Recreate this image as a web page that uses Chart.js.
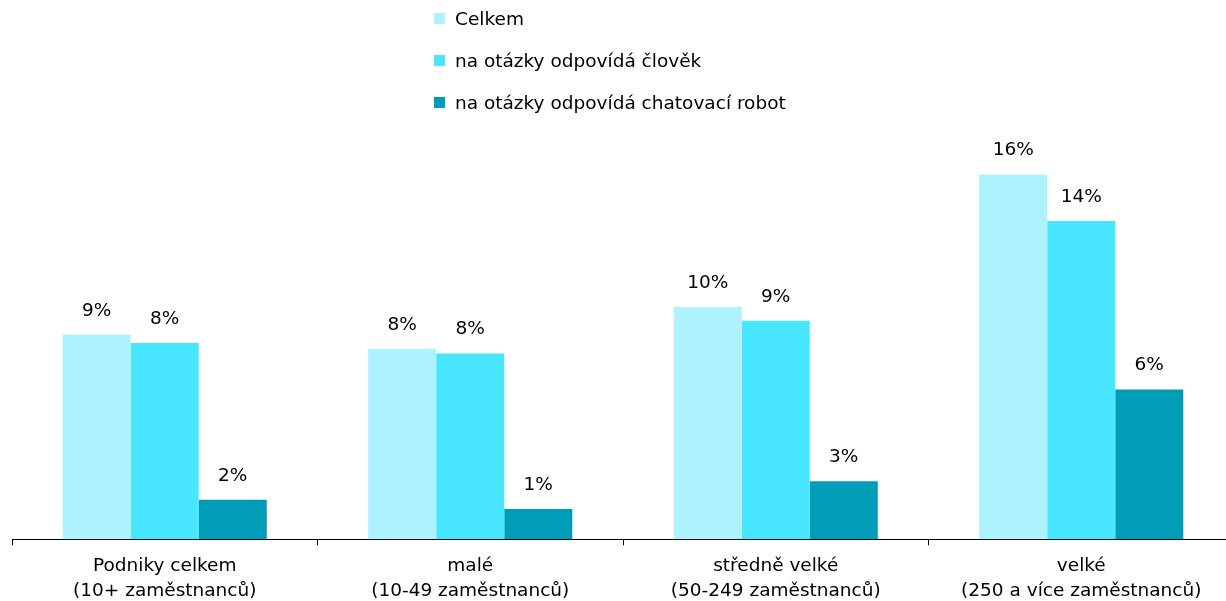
<!DOCTYPE html>
<html lang="cs">
<head>
<meta charset="utf-8">
<script src="https://cdn.jsdelivr.net/npm/chart.js@4.4.1/dist/chart.umd.min.js"></script>
<style>
    html, body { margin: 0; padding: 0; background: #fff; overflow: hidden; }
    #wrap { position: relative; width: 1240px; height: 618px; }
    #legend { position: absolute; left: 434px; top: 0; font-family: "DejaVu Sans", Arial, sans-serif; font-size: 18.5px; color: #000; }
    .leg-item { position: absolute; left: 0; height: 22px; display: flex; align-items: center; white-space: nowrap; }
    .leg-box { width: 11px; height: 11px; margin-right: 10px; }
</style>
</head>
<body>
<div id="wrap">
    <canvas id="chart" width="1240" height="618"></canvas>
    <div id="legend"></div>
</div>
<script>
// Kategorie (velikost podniku)
const categories = [
    ["Podniky celkem", "(10+ zaměstnanců)"],
    ["malé", "(10-49 zaměstnanců)"],
    ["středně velké", "(50-249 zaměstnanců)"],
    ["velké", "(250 a více zaměstnanců)"]
];

const seriesNames = ["Celkem", "na otázky odpovídá člověk", "na otázky odpovídá chatovací robot"];
const seriesColors = ["#aef2fe", "#48e6ff", "#009db8"];

// hodnoty v %
const celkem = [8.8, 8.2, 10.0, 15.7];
const clovek = [8.45, 8.0, 9.4, 13.7];
const robot = [1.7, 1.3, 2.5, 6.45];

const fontFamily = '"DejaVu Sans", Arial, sans-serif';

// Popisky nad sloupci
const barLabels = {
    id: 'barLabels',
    afterDatasetsDraw(chart) {
        const ctx = chart.ctx;
        ctx.save();
        ctx.font = '18.5px ' + fontFamily;
        ctx.fillStyle = '#000';
        ctx.textAlign = 'center';
        ctx.textBaseline = 'middle';
        chart.data.datasets.forEach((ds, i) => {
            chart.getDatasetMeta(i).data.forEach((bar, j) => {
                ctx.fillText(Math.round(ds.data[j]) + '%', bar.x, bar.y - 24);
            });
        });
        ctx.restore();
    }
};

const chart = new Chart(document.getElementById('chart'), {
    type: 'bar',
    data: {
        labels: categories,
        datasets: [
            { label: seriesNames[0], data: celkem, backgroundColor: seriesColors[0] },
            { label: seriesNames[1], data: clovek, backgroundColor: seriesColors[1] },
            { label: seriesNames[2], data: robot, backgroundColor: seriesColors[2] }
        ]
    },
    options: {
        responsive: false,
        animation: false,
        barPercentage: 1,
        categoryPercentage: 0.668,
        layout: { padding: { left: 12, right: 6, top: 121, bottom: 6 } },
        plugins: {
            legend: { display: false },
            tooltip: { enabled: false }
        },
        scales: {
            x: {
                offset: true,
                border: { display: true, color: '#000', width: 1 },
                grid: { display: true, drawOnChartArea: false, color: '#000', tickLength: 6, offset: true },
                ticks: {
                    color: '#000',
                    padding: 8,
                    font: { family: fontFamily, size: 18.5, lineHeight: 1.37 },
                    maxRotation: 0
                }
            },
            y: {
                display: false,
                min: 0,
                max: 18
            }
        }
    },
    plugins: [barLabels]
});

// HTML legenda ve sloupci
const legendEl = document.getElementById('legend');
seriesNames.forEach((name, i) => {
    const item = document.createElement('div');
    item.className = 'leg-item';
    item.style.top = (7 + i * 42) + 'px';
    item.innerHTML = `<span class="leg-box" style="background:${seriesColors[i]}"></span><span>${name}</span>`;
    legendEl.appendChild(item);
});
</script>
</body>
</html>
